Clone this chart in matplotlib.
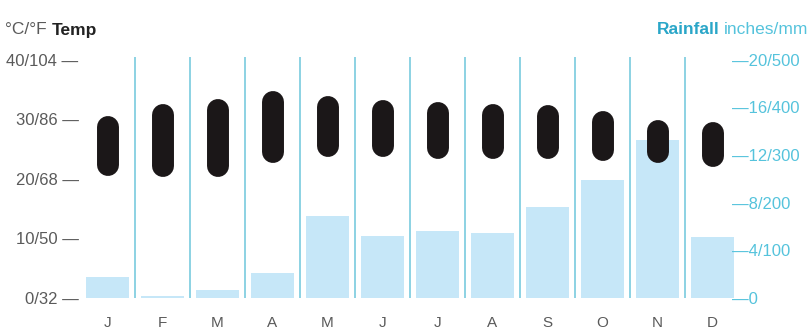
import matplotlib.pyplot as plt

months = ["J", "F", "M", "A", "M", "J", "J", "A", "S", "O", "N", "D"]
temp_high = [30.6, 32.6, 33.3, 34.8, 33.9, 33.2, 32.8, 32.5, 32.4, 31.3, 29.9, 29.5]
temp_low = [20.5, 20.3, 20.3, 22.7, 23.7, 23.7, 23.4, 23.4, 23.3, 23.0, 22.6, 21.9]
rain_mm = [44, 5, 17, 53, 171, 131, 141, 137, 190, 247, 331, 127]

temp_ticks = [0, 10, 20, 30, 40]
temp_labels = ["0/32", "10/50", "20/68", "30/86", "40/104"]
rain_ticks = [0, 100, 200, 300, 400, 500]
rain_labels = ["0", "4/100", "8/200", "12/300", "16/400", "20/500"]

plt.rcParams["font.family"] = ["Liberation Sans", "DejaVu Sans"]

grey = "#5a5a5a"
teal = "#2aa6c8"
light_teal = "#55c3dc"

fig = plt.figure(figsize=(8.11, 3.32), dpi=100)
ax = fig.add_axes([80 / 811, 34 / 332, 660 / 811, 241.4 / 332])
ax.set_xlim(-0.5, 11.5)
ax.set_ylim(0, 40.5)

# rainfall bars share the plot, 500 mm lines up with 40 degrees
rax = ax.twinx()
rax.set_ylim(0, 40.5 * 12.5)
rax.bar(range(12), rain_mm, width=0.78, color="#c6e7f8", zorder=1)
rax.set_zorder(0)
ax.set_zorder(1)
ax.patch.set_visible(False)

# month dividers
ax.vlines([i + 0.5 for i in range(11)], 0, 40.5, color="#84cfe0", lw=1.3, zorder=1)

# temperature range pills; shorten by the cap radius so the rounded ends land on the values
lw_pt = 15.8
cap = (lw_pt / 2) * 100 / 72 / (241.4 / 40.5)
for i in range(12):
    ax.plot([i, i], [temp_low[i] + cap, temp_high[i] - cap], color="#1b1718",
            lw=lw_pt, solid_capstyle="round", zorder=3)

for a in (ax, rax):
    for s in a.spines.values():
        s.set_visible(False)

ax.set_xticks(range(12))
ax.set_xticklabels(months, color=grey, fontsize=11)
ax.tick_params(axis="x", length=0, pad=13)

ax.set_yticks(temp_ticks)
ax.set_yticklabels([t + " \u2014" for t in temp_labels], color=grey, fontsize=12)
ax.tick_params(axis="y", length=0, pad=1)

rax.set_yticks(rain_ticks)
rax.set_yticklabels(["\u2014" + t for t in rain_labels], color=light_teal, fontsize=12)
rax.tick_params(axis="y", length=0, pad=-6)

# axis headers
unit_l = fig.text(5 / 811, 1 - 30 / 332, "\u00b0C/\u00b0F", color=grey, fontsize=12.5,
                  va="center")
ax.annotate("Temp", xy=(1, 0.5), xycoords=unit_l, xytext=(4, 0),
            textcoords="offset points", color="#222222", fontsize=12.5,
            fontweight="bold", va="center", annotation_clip=False)
unit_r = fig.text(808 / 811, 1 - 30 / 332, "inches/mm", color=light_teal, fontsize=12.5,
                  ha="right", va="center")
ax.annotate("Rainfall", xy=(0, 0.5), xycoords=unit_r, xytext=(-3, 0),
            textcoords="offset points", color=teal, fontsize=12.5,
            fontweight="bold", ha="right", va="center", annotation_clip=False)

fig.savefig("out.png", dpi=100)
